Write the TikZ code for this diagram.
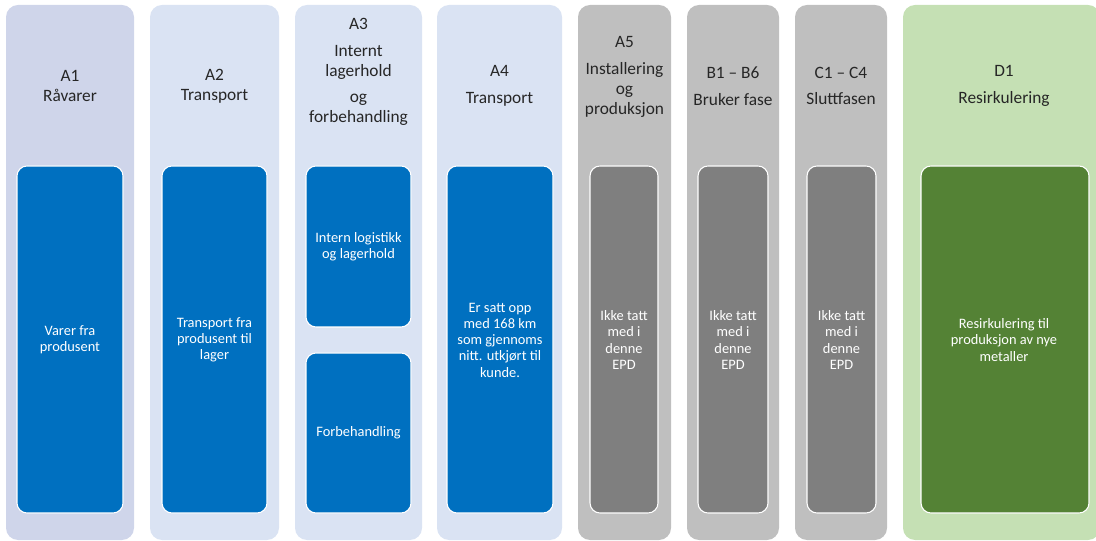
\documentclass[tikz,border=0pt]{standalone}
\usepackage{fontspec}
\setmainfont{Carlito}
\usepackage{xcolor}
\usepackage{tikz}
\definecolor{lavendel}{HTML}{CFD5EA}
\definecolor{lysblaa}{HTML}{DAE3F3}
\definecolor{blaa}{HTML}{0070C0}
\definecolor{lysgraa}{HTML}{BFBFBF}
\definecolor{graa}{HTML}{7F7F7F}
\definecolor{lysgroenn}{HTML}{C5E0B4}
\definecolor{groenn}{HTML}{548235}
\definecolor{tekst}{HTML}{262626}

\begin{document}
\begin{tikzpicture}[x=0.75pt,y=-0.75pt,
    outerbox/.style={rounded corners=9pt},
    innerbox/.style={rounded corners=7.5pt, draw=white, line width=0.8pt},
    title/.style={align=center, text=tekst, font=\fontsize{13}{15}\selectfont},
    boxtext/.style={align=center, text=white, font=\fontsize{10.8}{12.2}\selectfont}]
    \useasboundingbox (0,0) rectangle (1096,541);
    \clip (0,0) rectangle (1096,541);
    %固定画布大小(1096x541),并裁掉右侧超出的部分
    \foreach \l/\r/\c in {6/134/lavendel, 150/279/lysblaa, 295/422/lysblaa, 437/562/lysblaa,
        578/671/lysgraa, 687/779/lysgraa, 795/887/lysgraa, 903/1100/lysgroenn}
        {\fill[outerbox, \c] (\l,5) rectangle (\r,540);}
    %外层的圆角矩形(\l到\r),颜色(\c)
    \foreach \l/\r/\t/\b/\c in {17/123/166/513/blaa, 162/267/166/513/blaa,
        306/411/166/327/blaa, 306/411/353/513/blaa, 447/553/166/513/blaa,
        590/658/166/513/graa, 698/768/166/513/graa, 807/876/166/513/graa,
        921/1089/166/513/groenn}
        {\draw[innerbox, fill=\c] (\l,\t) rectangle (\r,\b);}
    %内层的圆角矩形,白色边框
    \node[title] (a1title) at (70,86) {A1\\Råvarer};
    \node[title] (a2title) at (214.5,86) {A2\\Transport};
    \node[title] (a3title) at (358.5,72) {A3\\[5pt]Internt\\lagerhold\\[5pt]og\\forbehandling};
    \node[title] (a4title) at (499.5,86) {A4\\[5pt]Transport};
    \node[title] (a5title) at (624.5,77) {A5\\[5pt]Installering\\og\\produksjon};
    \node[title] (btitle) at (733,86) {B1 – B6\\[5pt]Bruker fase};
    \node[title] (ctitle) at (841,86) {C1 – C4\\[5pt]Sluttfasen};
    \node[title] (dtitle) at (1004,86) {D1\\[5pt]Resirkulering};
    %每一列上方的标题
    \node[boxtext] (a1text) at (70,340) {Varer fra\\produsent};
    \node[boxtext] (a2text) at (214.5,340) {Transport fra\\produsent til\\lager};
    \node[boxtext] (a3text) at (358.5,247) {Intern logistikk\\og lagerhold};
    \node[boxtext] (a3btext) at (358.5,433) {Forbehandling};
    \node[boxtext] (a4text) at (500,340) {Er satt opp\\med 168 km\\som gjennoms\\nitt. utkjørt til\\kunde.};
    \node[boxtext] (a5text) at (624,340) {Ikke tatt\\med i\\denne\\EPD};
    \node[boxtext] (btext) at (733,340) {Ikke tatt\\med i\\denne\\EPD};
    \node[boxtext] (ctext) at (841.5,340) {Ikke tatt\\med i\\denne\\EPD};
    \node[boxtext] (dtext) at (1004,340) {Resirkulering til\\produksjon av nye\\metaller};
    %内层矩形里的白色文字
\end{tikzpicture}
\end{document}
